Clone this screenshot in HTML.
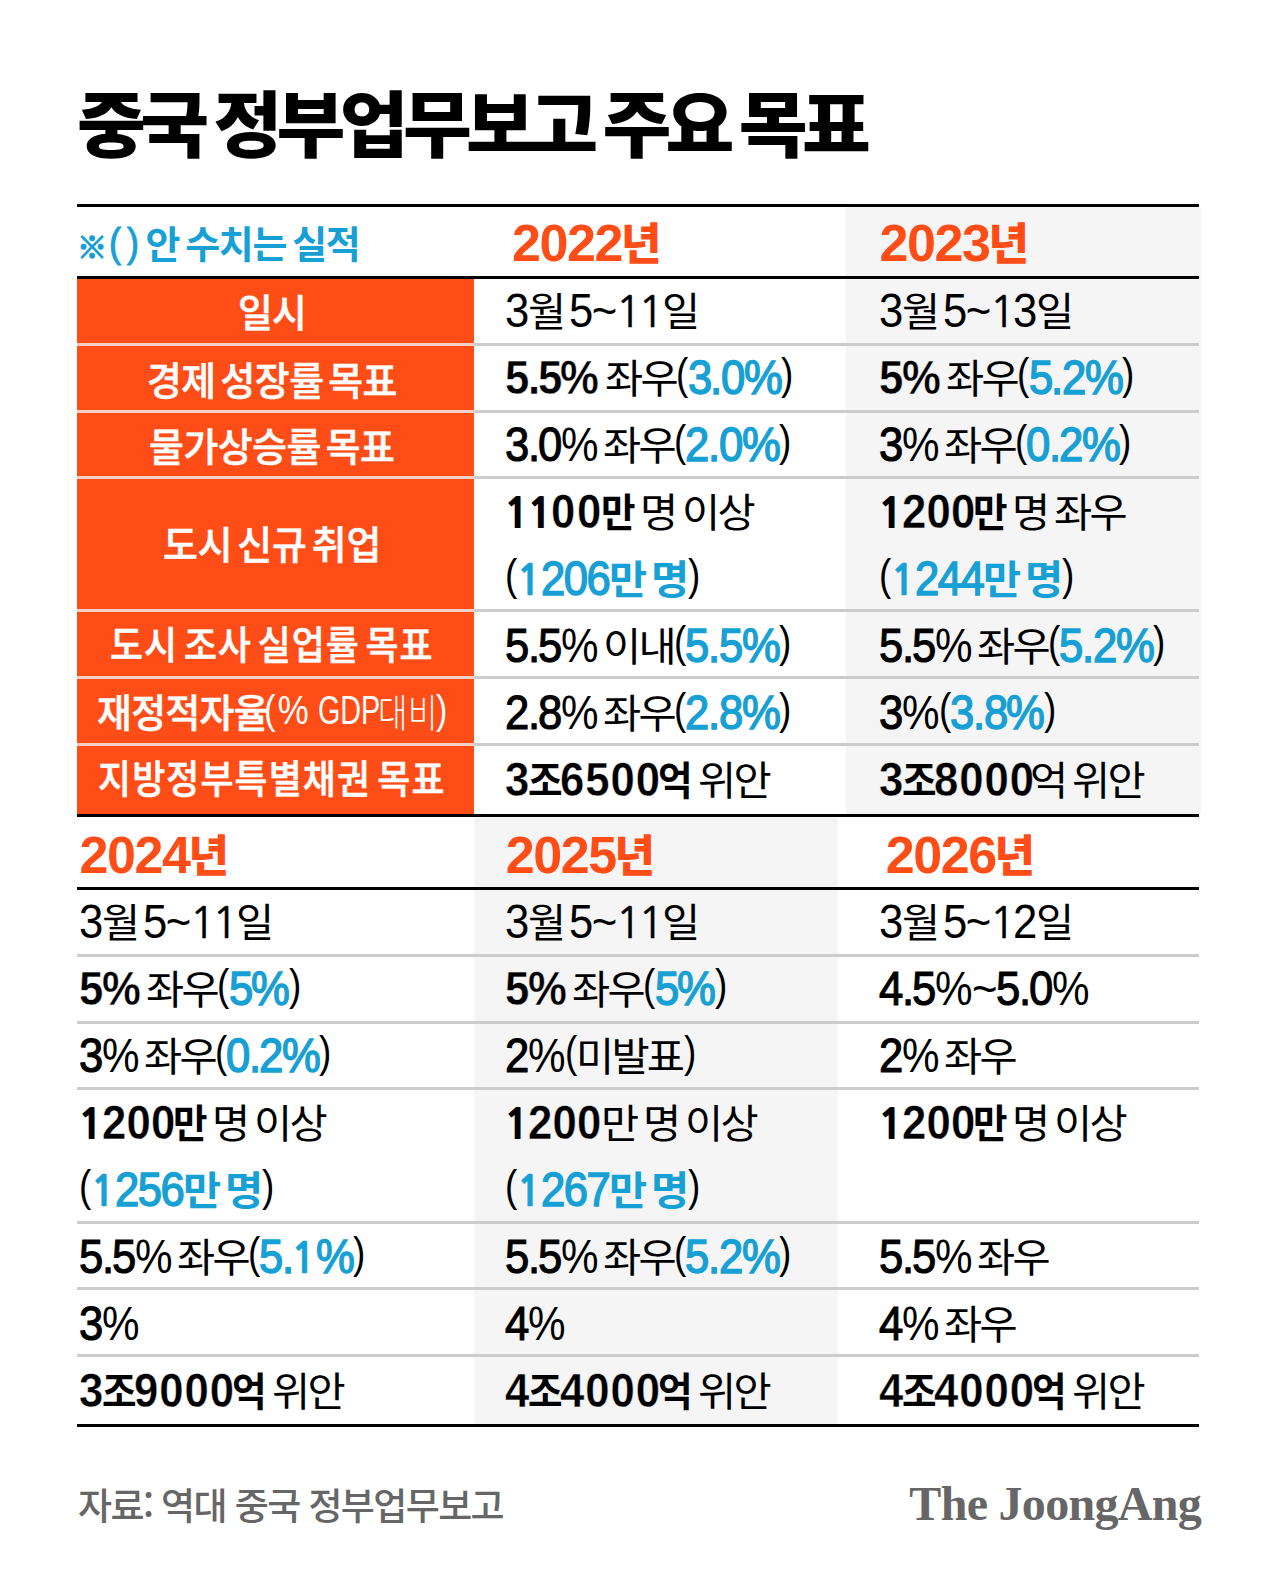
<!DOCTYPE html>
<html lang="ko"><head><meta charset="utf-8"><title>중국 정부업무보고 주요 목표</title>
<style>
html,body{margin:0;padding:0;background:#fff;}
#wrap{position:relative;width:1280px;height:1584px;overflow:hidden;background:#fff;
  font-family:"Liberation Sans","Noto Sans CJK KR",sans-serif;color:#000;}
.ln{position:absolute;white-space:pre;line-height:0;height:60px;font-size:0;}
.strut{display:inline-block;height:60px;width:0;vertical-align:baseline;}
.u{display:inline-block;white-space:pre;vertical-align:baseline;line-height:0;}
.i{display:inline-block;white-space:pre;transform-origin:0 50%;line-height:1;}
.sp{font-size:10px;}
.L{font-family:"Liberation Sans",sans-serif;font-size:48.5px;letter-spacing:-1.7px;}
.K{position:relative;top:-1px;font-family:"Noto Sans CJK KR",sans-serif;font-size:39.5px;letter-spacing:-2.6px;}
.P{font-family:"Liberation Sans",sans-serif;font-size:43.5px;letter-spacing:-1.0px;position:relative;top:-5.5px;font-weight:400;color:#000;}
.N{font-family:"NanumGothic",sans-serif;}
.Nb{font-size:42.0px;font-weight:800;}
.Nc{font-size:42.8px;font-weight:700;color:#17a0d4;-webkit-text-stroke:0.5px #17a0d4;}
.Nm{font-size:42.8px;font-weight:700;-webkit-text-stroke:0.3px #000;}
.Nr{font-size:43.5px;font-weight:400;-webkit-text-stroke:0.5px #000;}
.Lb,.Kb{font-weight:700;}
.Lb{letter-spacing:1.1px;-webkit-text-stroke:0.4px #fff;}
.gb .Lb{-webkit-text-stroke-color:#f5f5f5;}
.Lr,.Kr{font-weight:400;}
.Lm{font-weight:400;-webkit-text-stroke:1.1px #000;}
.Km{font-weight:500;}
.Lc{font-weight:400;color:#17a0d4;-webkit-text-stroke:1.5px #17a0d4;}
.Kc{font-weight:700;color:#17a0d4;}
.yr{position:absolute;white-space:nowrap;font-size:52px;font-weight:700;color:#ff4d17;line-height:0;letter-spacing:-1.4px;height:60px;font-family:"Liberation Sans",sans-serif;}
.yr .k{-webkit-text-stroke:0;position:relative;top:-1px;font-size:44px;font-weight:900;letter-spacing:0;margin-left:-1.2px;font-family:"Noto Sans CJK KR",sans-serif;}
#title{position:absolute;left:77px;top:66.5px;font-size:72px;font-weight:900;letter-spacing:-5.5px;word-spacing:-5px;transform:scaleX(1.04);transform-origin:0 0;white-space:nowrap;line-height:106px;font-family:"Noto Sans CJK KR",sans-serif;}
#note{position:absolute;left:0;top:207px;height:69px;width:474px;color:#17a0d4;white-space:pre;font-weight:700;}
#note span{position:absolute;white-space:pre;line-height:1;}
.nx{left:77px;top:22.5px;font-size:30px;font-family:"Noto Sans CJK KR",sans-serif;font-weight:900;-webkit-text-stroke:1.3px #17a0d4;}
.np{left:109px;top:15.5px;font-size:40px;font-family:"Liberation Sans",sans-serif;font-weight:400;-webkit-text-stroke:1px #17a0d4;letter-spacing:0;word-spacing:-4.4px;transform:scaleX(.9);transform-origin:0 0;}
.nk{left:145.5px;top:15.5px;font-size:38px;font-family:"Noto Sans CJK KR",sans-serif;font-weight:700;letter-spacing:-1.4px;word-spacing:-3px;}
.lab{position:absolute;left:77px;width:390px;height:60px;line-height:60px;text-align:center;color:#fff;white-space:pre;font-size:0;}
.lp{display:inline-block;white-space:pre;font-size:39px;line-height:60px;text-align:left;vertical-align:top;word-spacing:-5.5px;}
.lpi{display:inline-block;white-space:pre;transform-origin:0 50%;}
.lb{font-family:"Noto Sans CJK KR",sans-serif;font-weight:500;-webkit-text-stroke:0.6px #fff;}
.ll{font-family:"Liberation Sans",sans-serif;font-weight:400;font-size:40px;}
.lk{font-family:"Noto Sans CJK KR",sans-serif;font-weight:300;font-size:39px;position:relative;top:0px;}
#src{position:absolute;left:78px;top:1474px;font-size:37px;color:#666;white-space:nowrap;line-height:60px;letter-spacing:-1.6px;font-family:"Noto Sans CJK KR",sans-serif;font-weight:500;}
#logo{position:absolute;right:79px;top:1474px;font-size:48px;color:#666;white-space:nowrap;line-height:60px;font-family:"Liberation Serif",serif;font-weight:700;letter-spacing:-0.7px;}
</style></head>
<body>
<div id="wrap">
<div style="position:absolute;left:846px;top:207px;width:355px;height:606.5px;background:#f5f5f5;"></div>
<div style="position:absolute;left:474px;top:816.5px;width:364px;height:607.5px;background:#f5f5f5;"></div>
<div style="position:absolute;left:77px;top:279px;width:397px;height:534.5px;background:#ff4d17;"></div>
<div id="title">중국 정부업무보고 주요 목표</div>
<div id="note"><span class="nx">※</span><span class="np">( ) </span><span class="nk">안 수치는 실적</span></div>
<div class="ln" style="left:504.8px;top:267px"><span class="u L Lr" style="width:22.75px;"><span class="i" style="transform:scaleX(0.9);">3</span></span><span class="u K Kr" style="width:35.44px;"><span class="i" style="transform:scaleX(1.05);">월</span></span><span class="u sp" style="width:6.5px"> </span><span class="u L Lr" style="width:46.72px;"><span class="i" style="transform:scaleX(0.9);">5~</span></span><span class="u N Nr" style="width:26.38px;margin-left:-0.8px;margin-right:-2.9px;"><span class="i" style="transform:scaleX(1.0);">1</span></span><span class="u N Nr" style="width:26.38px;margin-left:-0.8px;margin-right:-2.9px;"><span class="i" style="transform:scaleX(1.0);">1</span></span><span class="u K Kr" style="width:35.44px;"><span class="i" style="transform:scaleX(1.05);">일</span></span><span class="strut"></span></div>
<div class="ln" style="left:504.8px;top:334px"><span class="u L Lb" style="width:25.27px;"><span class="i" style="transform:scaleX(0.9);">5</span></span><span class="u L Lb" style="width:13.12px;margin-left:-2.5px;margin-right:-3px;"><span class="i" style="transform:scaleX(0.9);">.</span></span><span class="u L Lb" style="width:25.27px;"><span class="i" style="transform:scaleX(0.9);">5</span></span><span class="u L Lb" style="width:39.81px;margin-left:-2.5px;"><span class="i" style="transform:scaleX(0.9);">%</span></span><span class="u sp" style="width:5.0px"> </span><span class="u K Kr" style="width:70.86px;"><span class="i" style="transform:scaleX(1.05);">좌우</span></span><span class="u P" style="width:11.47px;"><span class="i" style="transform:scaleX(0.85);">(</span></span><span class="u L Lc" style="width:22.75px;"><span class="i" style="transform:scaleX(0.9);">3</span></span><span class="u L Lc" style="width:10.60px;"><span class="i" style="transform:scaleX(0.9);">.</span></span><span class="u L Lc" style="width:22.75px;"><span class="i" style="transform:scaleX(0.9);">0</span></span><span class="u L Lc" style="width:37.29px;"><span class="i" style="transform:scaleX(0.9);">%</span></span><span class="u P" style="width:11.47px;"><span class="i" style="transform:scaleX(0.85);">)</span></span><span class="strut"></span></div>
<div class="ln" style="left:504.8px;top:401px"><span class="u L Lm" style="width:22.75px;"><span class="i" style="transform:scaleX(0.9);">3</span></span><span class="u L Lm" style="width:10.60px;"><span class="i" style="transform:scaleX(0.9);">.</span></span><span class="u L Lm" style="width:22.75px;"><span class="i" style="transform:scaleX(0.9);">0</span></span><span class="u L Lr" style="width:36.05px;margin-right:1.2px;"><span class="i" style="transform:scaleX(0.87);">%</span></span><span class="u sp" style="width:5.0px"> </span><span class="u K Kr" style="width:70.86px;"><span class="i" style="transform:scaleX(1.05);">좌우</span></span><span class="u P" style="width:11.47px;"><span class="i" style="transform:scaleX(0.85);">(</span></span><span class="u L Lc" style="width:22.75px;"><span class="i" style="transform:scaleX(0.9);">2</span></span><span class="u L Lc" style="width:10.60px;"><span class="i" style="transform:scaleX(0.9);">.</span></span><span class="u L Lc" style="width:22.75px;"><span class="i" style="transform:scaleX(0.9);">0</span></span><span class="u L Lc" style="width:37.29px;"><span class="i" style="transform:scaleX(0.9);">%</span></span><span class="u P" style="width:11.47px;"><span class="i" style="transform:scaleX(0.85);">)</span></span><span class="strut"></span></div>
<div class="ln" style="left:504.8px;top:468px"><span class="u N Nb" style="width:25.45px;margin-left:-0.7px;margin-right:-1.5px;"><span class="i" style="transform:scaleX(1.0);">1</span></span><span class="u N Nb" style="width:25.45px;margin-left:-0.7px;margin-right:-1.5px;"><span class="i" style="transform:scaleX(1.0);">1</span></span><span class="u L Lb" style="width:51.97px;"><span class="i" style="transform:scaleX(0.9);letter-spacing:1.9px;">00</span></span><span class="u K Kb" style="width:32.06px;margin-left:-2.5px;"><span class="i" style="transform:scaleX(0.95);">만</span></span><span class="u sp" style="width:7.5px"> </span><span class="u K Kr" style="width:35.44px;"><span class="i" style="transform:scaleX(1.05);">명</span></span><span class="u sp" style="width:6.5px"> </span><span class="u K Kr" style="width:70.86px;"><span class="i" style="transform:scaleX(1.05);">이상</span></span><span class="strut"></span></div>
<div class="ln" style="left:504.8px;top:535px"><span class="u P" style="width:11.47px;"><span class="i" style="transform:scaleX(0.85);">(</span></span><span class="u N Nc" style="width:25.94px;margin-left:-0.20000000000000018px;margin-right:-1.0px;"><span class="i" style="transform:scaleX(1.0);">1</span></span><span class="u L Lc" style="width:68.25px;"><span class="i" style="transform:scaleX(0.9);">206</span></span><span class="u K Kc" style="width:35.44px;"><span class="i" style="transform:scaleX(1.05);">만</span></span><span class="u sp" style="width:6px"> </span><span class="u K Kc" style="width:35.44px;"><span class="i" style="transform:scaleX(1.05);">명</span></span><span class="u P" style="width:11.47px;margin-left:1.5px;"><span class="i" style="transform:scaleX(0.85);">)</span></span><span class="strut"></span></div>
<div class="ln" style="left:504.8px;top:602px"><span class="u L Lm" style="width:22.75px;"><span class="i" style="transform:scaleX(0.9);">5</span></span><span class="u L Lm" style="width:10.60px;"><span class="i" style="transform:scaleX(0.9);">.</span></span><span class="u L Lm" style="width:22.75px;"><span class="i" style="transform:scaleX(0.9);">5</span></span><span class="u L Lr" style="width:36.05px;margin-right:1.2px;"><span class="i" style="transform:scaleX(0.87);">%</span></span><span class="u sp" style="width:5.0px"> </span><span class="u K Kr" style="width:70.86px;"><span class="i" style="transform:scaleX(1.05);">이내</span></span><span class="u P" style="width:11.47px;"><span class="i" style="transform:scaleX(0.85);">(</span></span><span class="u L Lc" style="width:22.75px;"><span class="i" style="transform:scaleX(0.9);">5</span></span><span class="u L Lc" style="width:10.60px;"><span class="i" style="transform:scaleX(0.9);">.</span></span><span class="u L Lc" style="width:22.75px;"><span class="i" style="transform:scaleX(0.9);">5</span></span><span class="u L Lc" style="width:37.29px;"><span class="i" style="transform:scaleX(0.9);">%</span></span><span class="u P" style="width:11.47px;"><span class="i" style="transform:scaleX(0.85);">)</span></span><span class="strut"></span></div>
<div class="ln" style="left:504.8px;top:669px"><span class="u L Lm" style="width:22.75px;"><span class="i" style="transform:scaleX(0.9);">2</span></span><span class="u L Lm" style="width:10.60px;"><span class="i" style="transform:scaleX(0.9);">.</span></span><span class="u L Lm" style="width:22.75px;"><span class="i" style="transform:scaleX(0.9);">8</span></span><span class="u L Lr" style="width:36.05px;margin-right:1.2px;"><span class="i" style="transform:scaleX(0.87);">%</span></span><span class="u sp" style="width:5.0px"> </span><span class="u K Kr" style="width:70.86px;"><span class="i" style="transform:scaleX(1.05);">좌우</span></span><span class="u P" style="width:11.47px;"><span class="i" style="transform:scaleX(0.85);">(</span></span><span class="u L Lc" style="width:22.75px;"><span class="i" style="transform:scaleX(0.9);">2</span></span><span class="u L Lc" style="width:10.60px;"><span class="i" style="transform:scaleX(0.9);">.</span></span><span class="u L Lc" style="width:22.75px;"><span class="i" style="transform:scaleX(0.9);">8</span></span><span class="u L Lc" style="width:37.29px;"><span class="i" style="transform:scaleX(0.9);">%</span></span><span class="u P" style="width:11.47px;"><span class="i" style="transform:scaleX(0.85);">)</span></span><span class="strut"></span></div>
<div class="ln" style="left:504.8px;top:736px"><span class="u L Lb" style="width:25.27px;"><span class="i" style="transform:scaleX(0.9);">3</span></span><span class="u K Kb" style="width:32.06px;margin-left:-2.5px;"><span class="i" style="transform:scaleX(0.95);">조</span></span><span class="u L Lb" style="width:101.07px;"><span class="i" style="transform:scaleX(0.9);">6500</span></span><span class="u K Kb" style="width:32.06px;margin-left:-2.5px;"><span class="i" style="transform:scaleX(0.95);">억</span></span><span class="u sp" style="width:7.5px"> </span><span class="u K Kr" style="width:70.86px;"><span class="i" style="transform:scaleX(1.05);">위안</span></span><span class="strut"></span></div>
<div class="ln gb" style="left:878.8px;top:267px"><span class="u L Lr" style="width:22.75px;"><span class="i" style="transform:scaleX(0.9);">3</span></span><span class="u K Kr" style="width:35.44px;"><span class="i" style="transform:scaleX(1.05);">월</span></span><span class="u sp" style="width:6.5px"> </span><span class="u L Lr" style="width:46.72px;"><span class="i" style="transform:scaleX(0.9);">5~</span></span><span class="u N Nr" style="width:26.38px;margin-left:-0.8px;margin-right:-2.9px;"><span class="i" style="transform:scaleX(1.0);">1</span></span><span class="u L Lr" style="width:22.75px;"><span class="i" style="transform:scaleX(0.9);">3</span></span><span class="u K Kr" style="width:35.44px;"><span class="i" style="transform:scaleX(1.05);">일</span></span><span class="strut"></span></div>
<div class="ln gb" style="left:878.8px;top:334px"><span class="u L Lb" style="width:25.27px;"><span class="i" style="transform:scaleX(0.9);">5</span></span><span class="u L Lb" style="width:39.81px;margin-left:-2.5px;"><span class="i" style="transform:scaleX(0.9);">%</span></span><span class="u sp" style="width:5.0px"> </span><span class="u K Kr" style="width:70.86px;"><span class="i" style="transform:scaleX(1.05);">좌우</span></span><span class="u P" style="width:11.47px;"><span class="i" style="transform:scaleX(0.85);">(</span></span><span class="u L Lc" style="width:22.75px;"><span class="i" style="transform:scaleX(0.9);">5</span></span><span class="u L Lc" style="width:10.60px;"><span class="i" style="transform:scaleX(0.9);">.</span></span><span class="u L Lc" style="width:22.75px;"><span class="i" style="transform:scaleX(0.9);">2</span></span><span class="u L Lc" style="width:37.29px;"><span class="i" style="transform:scaleX(0.9);">%</span></span><span class="u P" style="width:11.47px;"><span class="i" style="transform:scaleX(0.85);">)</span></span><span class="strut"></span></div>
<div class="ln gb" style="left:878.8px;top:401px"><span class="u L Lm" style="width:22.75px;"><span class="i" style="transform:scaleX(0.9);">3</span></span><span class="u L Lr" style="width:36.05px;margin-right:1.2px;"><span class="i" style="transform:scaleX(0.87);">%</span></span><span class="u sp" style="width:5.0px"> </span><span class="u K Kr" style="width:70.86px;"><span class="i" style="transform:scaleX(1.05);">좌우</span></span><span class="u P" style="width:11.47px;"><span class="i" style="transform:scaleX(0.85);">(</span></span><span class="u L Lc" style="width:22.75px;"><span class="i" style="transform:scaleX(0.9);">0</span></span><span class="u L Lc" style="width:10.60px;"><span class="i" style="transform:scaleX(0.9);">.</span></span><span class="u L Lc" style="width:22.75px;"><span class="i" style="transform:scaleX(0.9);">2</span></span><span class="u L Lc" style="width:37.29px;"><span class="i" style="transform:scaleX(0.9);">%</span></span><span class="u P" style="width:11.47px;"><span class="i" style="transform:scaleX(0.85);">)</span></span><span class="strut"></span></div>
<div class="ln gb" style="left:878.8px;top:468px"><span class="u N Nb" style="width:25.45px;margin-left:-0.7px;margin-right:-1.5px;"><span class="i" style="transform:scaleX(1.0);">1</span></span><span class="u L Lb" style="width:73.38px;"><span class="i" style="transform:scaleX(0.9);letter-spacing:0.2px;">200</span></span><span class="u K Kb" style="width:32.06px;margin-left:-2.5px;"><span class="i" style="transform:scaleX(0.95);">만</span></span><span class="u sp" style="width:7.5px"> </span><span class="u K Kr" style="width:35.44px;"><span class="i" style="transform:scaleX(1.05);">명</span></span><span class="u sp" style="width:6.5px"> </span><span class="u K Kr" style="width:70.86px;"><span class="i" style="transform:scaleX(1.05);">좌우</span></span><span class="strut"></span></div>
<div class="ln gb" style="left:878.8px;top:535px"><span class="u P" style="width:11.47px;"><span class="i" style="transform:scaleX(0.85);">(</span></span><span class="u N Nc" style="width:25.94px;margin-left:-0.20000000000000018px;margin-right:-1.0px;"><span class="i" style="transform:scaleX(1.0);">1</span></span><span class="u L Lc" style="width:68.25px;"><span class="i" style="transform:scaleX(0.9);">244</span></span><span class="u K Kc" style="width:35.44px;"><span class="i" style="transform:scaleX(1.05);">만</span></span><span class="u sp" style="width:6px"> </span><span class="u K Kc" style="width:35.44px;"><span class="i" style="transform:scaleX(1.05);">명</span></span><span class="u P" style="width:11.47px;margin-left:1.5px;"><span class="i" style="transform:scaleX(0.85);">)</span></span><span class="strut"></span></div>
<div class="ln gb" style="left:878.8px;top:602px"><span class="u L Lm" style="width:22.75px;"><span class="i" style="transform:scaleX(0.9);">5</span></span><span class="u L Lm" style="width:10.60px;"><span class="i" style="transform:scaleX(0.9);">.</span></span><span class="u L Lm" style="width:22.75px;"><span class="i" style="transform:scaleX(0.9);">5</span></span><span class="u L Lr" style="width:36.05px;margin-right:1.2px;"><span class="i" style="transform:scaleX(0.87);">%</span></span><span class="u sp" style="width:5.0px"> </span><span class="u K Kr" style="width:70.86px;"><span class="i" style="transform:scaleX(1.05);">좌우</span></span><span class="u P" style="width:11.47px;"><span class="i" style="transform:scaleX(0.85);">(</span></span><span class="u L Lc" style="width:22.75px;"><span class="i" style="transform:scaleX(0.9);">5</span></span><span class="u L Lc" style="width:10.60px;"><span class="i" style="transform:scaleX(0.9);">.</span></span><span class="u L Lc" style="width:22.75px;"><span class="i" style="transform:scaleX(0.9);">2</span></span><span class="u L Lc" style="width:37.29px;"><span class="i" style="transform:scaleX(0.9);">%</span></span><span class="u P" style="width:11.47px;"><span class="i" style="transform:scaleX(0.85);">)</span></span><span class="strut"></span></div>
<div class="ln gb" style="left:878.8px;top:669px"><span class="u L Lm" style="width:22.75px;"><span class="i" style="transform:scaleX(0.9);">3</span></span><span class="u L Lr" style="width:36.05px;margin-right:1.2px;"><span class="i" style="transform:scaleX(0.87);">%</span></span><span class="u P" style="width:11.47px;"><span class="i" style="transform:scaleX(0.85);">(</span></span><span class="u L Lc" style="width:22.75px;"><span class="i" style="transform:scaleX(0.9);">3</span></span><span class="u L Lc" style="width:10.60px;"><span class="i" style="transform:scaleX(0.9);">.</span></span><span class="u L Lc" style="width:22.75px;"><span class="i" style="transform:scaleX(0.9);">8</span></span><span class="u L Lc" style="width:37.29px;"><span class="i" style="transform:scaleX(0.9);">%</span></span><span class="u P" style="width:11.47px;"><span class="i" style="transform:scaleX(0.85);">)</span></span><span class="strut"></span></div>
<div class="ln gb" style="left:878.8px;top:736px"><span class="u L Lb" style="width:25.27px;"><span class="i" style="transform:scaleX(0.9);">3</span></span><span class="u K Kb" style="width:32.06px;margin-left:-2.5px;"><span class="i" style="transform:scaleX(0.95);">조</span></span><span class="u L Lb" style="width:101.07px;"><span class="i" style="transform:scaleX(0.9);">8000</span></span><span class="u K Kr" style="width:35.44px;margin-left:-4.5px;"><span class="i" style="transform:scaleX(1.05);">억</span></span><span class="u sp" style="width:6.5px"> </span><span class="u K Kr" style="width:70.86px;"><span class="i" style="transform:scaleX(1.05);">위안</span></span><span class="strut"></span></div>
<div class="ln" style="left:78.8px;top:878px"><span class="u L Lr" style="width:22.75px;"><span class="i" style="transform:scaleX(0.9);">3</span></span><span class="u K Kr" style="width:35.44px;"><span class="i" style="transform:scaleX(1.05);">월</span></span><span class="u sp" style="width:6.5px"> </span><span class="u L Lr" style="width:46.72px;"><span class="i" style="transform:scaleX(0.9);">5~</span></span><span class="u N Nr" style="width:26.38px;margin-left:-0.8px;margin-right:-2.9px;"><span class="i" style="transform:scaleX(1.0);">1</span></span><span class="u N Nr" style="width:26.38px;margin-left:-0.8px;margin-right:-2.9px;"><span class="i" style="transform:scaleX(1.0);">1</span></span><span class="u K Kr" style="width:35.44px;"><span class="i" style="transform:scaleX(1.05);">일</span></span><span class="strut"></span></div>
<div class="ln" style="left:78.8px;top:945px"><span class="u L Lb" style="width:25.27px;"><span class="i" style="transform:scaleX(0.9);">5</span></span><span class="u L Lb" style="width:39.81px;margin-left:-2.5px;"><span class="i" style="transform:scaleX(0.9);">%</span></span><span class="u sp" style="width:5.0px"> </span><span class="u K Kr" style="width:70.86px;"><span class="i" style="transform:scaleX(1.05);">좌우</span></span><span class="u P" style="width:11.48px;"><span class="i" style="transform:scaleX(0.85);">(</span></span><span class="u L Lc" style="width:22.75px;"><span class="i" style="transform:scaleX(0.9);">5</span></span><span class="u L Lc" style="width:37.29px;"><span class="i" style="transform:scaleX(0.9);">%</span></span><span class="u P" style="width:11.48px;"><span class="i" style="transform:scaleX(0.85);">)</span></span><span class="strut"></span></div>
<div class="ln" style="left:78.8px;top:1012px"><span class="u L Lm" style="width:22.75px;"><span class="i" style="transform:scaleX(0.9);">3</span></span><span class="u L Lr" style="width:36.05px;margin-right:1.2px;"><span class="i" style="transform:scaleX(0.87);">%</span></span><span class="u sp" style="width:5.0px"> </span><span class="u K Kr" style="width:70.86px;"><span class="i" style="transform:scaleX(1.05);">좌우</span></span><span class="u P" style="width:11.48px;"><span class="i" style="transform:scaleX(0.85);">(</span></span><span class="u L Lc" style="width:22.75px;"><span class="i" style="transform:scaleX(0.9);">0</span></span><span class="u L Lc" style="width:10.60px;"><span class="i" style="transform:scaleX(0.9);">.</span></span><span class="u L Lc" style="width:22.75px;"><span class="i" style="transform:scaleX(0.9);">2</span></span><span class="u L Lc" style="width:37.29px;"><span class="i" style="transform:scaleX(0.9);">%</span></span><span class="u P" style="width:11.48px;"><span class="i" style="transform:scaleX(0.85);">)</span></span><span class="strut"></span></div>
<div class="ln" style="left:78.8px;top:1079px"><span class="u N Nb" style="width:25.45px;margin-left:-0.7px;margin-right:-1.5px;"><span class="i" style="transform:scaleX(1.0);">1</span></span><span class="u L Lb" style="width:73.38px;"><span class="i" style="transform:scaleX(0.9);letter-spacing:0.2px;">200</span></span><span class="u K Kb" style="width:32.06px;margin-left:-2.5px;"><span class="i" style="transform:scaleX(0.95);">만</span></span><span class="u sp" style="width:7.5px"> </span><span class="u K Kr" style="width:35.44px;"><span class="i" style="transform:scaleX(1.05);">명</span></span><span class="u sp" style="width:6.5px"> </span><span class="u K Kr" style="width:70.86px;"><span class="i" style="transform:scaleX(1.05);">이상</span></span><span class="strut"></span></div>
<div class="ln" style="left:78.8px;top:1146px"><span class="u P" style="width:11.47px;"><span class="i" style="transform:scaleX(0.85);">(</span></span><span class="u N Nc" style="width:25.94px;margin-left:-0.20000000000000018px;margin-right:-1.0px;"><span class="i" style="transform:scaleX(1.0);">1</span></span><span class="u L Lc" style="width:68.25px;"><span class="i" style="transform:scaleX(0.9);">256</span></span><span class="u K Kc" style="width:35.44px;"><span class="i" style="transform:scaleX(1.05);">만</span></span><span class="u sp" style="width:6px"> </span><span class="u K Kc" style="width:35.44px;"><span class="i" style="transform:scaleX(1.05);">명</span></span><span class="u P" style="width:11.48px;margin-left:1.5px;"><span class="i" style="transform:scaleX(0.85);">)</span></span><span class="strut"></span></div>
<div class="ln" style="left:78.8px;top:1213px"><span class="u L Lm" style="width:22.75px;"><span class="i" style="transform:scaleX(0.9);">5</span></span><span class="u L Lm" style="width:10.60px;"><span class="i" style="transform:scaleX(0.9);">.</span></span><span class="u L Lm" style="width:22.75px;"><span class="i" style="transform:scaleX(0.9);">5</span></span><span class="u L Lr" style="width:36.05px;margin-right:1.2px;"><span class="i" style="transform:scaleX(0.87);">%</span></span><span class="u sp" style="width:5.0px"> </span><span class="u K Kr" style="width:70.86px;"><span class="i" style="transform:scaleX(1.05);">좌우</span></span><span class="u P" style="width:11.48px;"><span class="i" style="transform:scaleX(0.85);">(</span></span><span class="u L Lc" style="width:22.75px;"><span class="i" style="transform:scaleX(0.9);">5</span></span><span class="u L Lc" style="width:10.60px;"><span class="i" style="transform:scaleX(0.9);">.</span></span><span class="u N Nc" style="width:25.94px;margin-left:-2.2px;margin-right:-1.0px;"><span class="i" style="transform:scaleX(1.0);">1</span></span><span class="u L Lc" style="width:37.29px;"><span class="i" style="transform:scaleX(0.9);">%</span></span><span class="u P" style="width:11.48px;"><span class="i" style="transform:scaleX(0.85);">)</span></span><span class="strut"></span></div>
<div class="ln" style="left:78.8px;top:1280px"><span class="u L Lm" style="width:22.75px;"><span class="i" style="transform:scaleX(0.9);">3</span></span><span class="u L Lr" style="width:36.05px;margin-right:1.2px;"><span class="i" style="transform:scaleX(0.87);">%</span></span><span class="strut"></span></div>
<div class="ln" style="left:78.8px;top:1347px"><span class="u L Lb" style="width:25.27px;"><span class="i" style="transform:scaleX(0.9);">3</span></span><span class="u K Kb" style="width:32.06px;margin-left:-2.5px;"><span class="i" style="transform:scaleX(0.95);">조</span></span><span class="u L Lb" style="width:101.07px;"><span class="i" style="transform:scaleX(0.9);">9000</span></span><span class="u K Kb" style="width:32.06px;margin-left:-2.5px;"><span class="i" style="transform:scaleX(0.95);">억</span></span><span class="u sp" style="width:7.5px"> </span><span class="u K Kr" style="width:70.86px;"><span class="i" style="transform:scaleX(1.05);">위안</span></span><span class="strut"></span></div>
<div class="ln gb" style="left:504.8px;top:878px"><span class="u L Lr" style="width:22.75px;"><span class="i" style="transform:scaleX(0.9);">3</span></span><span class="u K Kr" style="width:35.44px;"><span class="i" style="transform:scaleX(1.05);">월</span></span><span class="u sp" style="width:6.5px"> </span><span class="u L Lr" style="width:46.72px;"><span class="i" style="transform:scaleX(0.9);">5~</span></span><span class="u N Nr" style="width:26.38px;margin-left:-0.8px;margin-right:-2.9px;"><span class="i" style="transform:scaleX(1.0);">1</span></span><span class="u N Nr" style="width:26.38px;margin-left:-0.8px;margin-right:-2.9px;"><span class="i" style="transform:scaleX(1.0);">1</span></span><span class="u K Kr" style="width:35.44px;"><span class="i" style="transform:scaleX(1.05);">일</span></span><span class="strut"></span></div>
<div class="ln gb" style="left:504.8px;top:945px"><span class="u L Lb" style="width:25.27px;"><span class="i" style="transform:scaleX(0.9);">5</span></span><span class="u L Lb" style="width:39.81px;margin-left:-2.5px;"><span class="i" style="transform:scaleX(0.9);">%</span></span><span class="u sp" style="width:5.0px"> </span><span class="u K Kr" style="width:70.86px;"><span class="i" style="transform:scaleX(1.05);">좌우</span></span><span class="u P" style="width:11.47px;"><span class="i" style="transform:scaleX(0.85);">(</span></span><span class="u L Lc" style="width:22.75px;"><span class="i" style="transform:scaleX(0.9);">5</span></span><span class="u L Lc" style="width:37.29px;"><span class="i" style="transform:scaleX(0.9);">%</span></span><span class="u P" style="width:11.47px;"><span class="i" style="transform:scaleX(0.85);">)</span></span><span class="strut"></span></div>
<div class="ln gb" style="left:504.8px;top:1012px"><span class="u L Lm" style="width:22.75px;"><span class="i" style="transform:scaleX(0.9);">2</span></span><span class="u L Lr" style="width:36.05px;margin-right:1.2px;"><span class="i" style="transform:scaleX(0.87);">%</span></span><span class="u P" style="width:11.47px;"><span class="i" style="transform:scaleX(0.85);">(</span></span><span class="u K Kr" style="width:106.30px;"><span class="i" style="transform:scaleX(1.05);">미발표</span></span><span class="u P" style="width:11.47px;margin-left:1.5px;"><span class="i" style="transform:scaleX(0.85);">)</span></span><span class="strut"></span></div>
<div class="ln gb" style="left:504.8px;top:1079px"><span class="u N Nb" style="width:25.45px;margin-left:-0.7px;margin-right:-1.5px;"><span class="i" style="transform:scaleX(1.0);">1</span></span><span class="u L Lb" style="width:73.38px;"><span class="i" style="transform:scaleX(0.9);letter-spacing:0.2px;">200</span></span><span class="u K Kr" style="width:35.44px;"><span class="i" style="transform:scaleX(1.05);">만</span></span><span class="u sp" style="width:6.5px"> </span><span class="u K Kr" style="width:35.44px;"><span class="i" style="transform:scaleX(1.05);">명</span></span><span class="u sp" style="width:6.5px"> </span><span class="u K Kr" style="width:70.86px;"><span class="i" style="transform:scaleX(1.05);">이상</span></span><span class="strut"></span></div>
<div class="ln gb" style="left:504.8px;top:1146px"><span class="u P" style="width:11.47px;"><span class="i" style="transform:scaleX(0.85);">(</span></span><span class="u N Nc" style="width:25.94px;margin-left:-0.20000000000000018px;margin-right:-1.0px;"><span class="i" style="transform:scaleX(1.0);">1</span></span><span class="u L Lc" style="width:68.25px;"><span class="i" style="transform:scaleX(0.9);">267</span></span><span class="u K Kc" style="width:35.44px;"><span class="i" style="transform:scaleX(1.05);">만</span></span><span class="u sp" style="width:6px"> </span><span class="u K Kc" style="width:35.44px;"><span class="i" style="transform:scaleX(1.05);">명</span></span><span class="u P" style="width:11.47px;margin-left:1.5px;"><span class="i" style="transform:scaleX(0.85);">)</span></span><span class="strut"></span></div>
<div class="ln gb" style="left:504.8px;top:1213px"><span class="u L Lm" style="width:22.75px;"><span class="i" style="transform:scaleX(0.9);">5</span></span><span class="u L Lm" style="width:10.60px;"><span class="i" style="transform:scaleX(0.9);">.</span></span><span class="u L Lm" style="width:22.75px;"><span class="i" style="transform:scaleX(0.9);">5</span></span><span class="u L Lr" style="width:36.05px;margin-right:1.2px;"><span class="i" style="transform:scaleX(0.87);">%</span></span><span class="u sp" style="width:5.0px"> </span><span class="u K Kr" style="width:70.86px;"><span class="i" style="transform:scaleX(1.05);">좌우</span></span><span class="u P" style="width:11.47px;"><span class="i" style="transform:scaleX(0.85);">(</span></span><span class="u L Lc" style="width:22.75px;"><span class="i" style="transform:scaleX(0.9);">5</span></span><span class="u L Lc" style="width:10.60px;"><span class="i" style="transform:scaleX(0.9);">.</span></span><span class="u L Lc" style="width:22.75px;"><span class="i" style="transform:scaleX(0.9);">2</span></span><span class="u L Lc" style="width:37.29px;"><span class="i" style="transform:scaleX(0.9);">%</span></span><span class="u P" style="width:11.47px;"><span class="i" style="transform:scaleX(0.85);">)</span></span><span class="strut"></span></div>
<div class="ln gb" style="left:504.8px;top:1280px"><span class="u L Lm" style="width:22.75px;"><span class="i" style="transform:scaleX(0.9);">4</span></span><span class="u L Lr" style="width:36.05px;margin-right:1.2px;"><span class="i" style="transform:scaleX(0.87);">%</span></span><span class="strut"></span></div>
<div class="ln gb" style="left:504.8px;top:1347px"><span class="u L Lb" style="width:25.27px;"><span class="i" style="transform:scaleX(0.9);">4</span></span><span class="u K Kb" style="width:32.06px;margin-left:-2.5px;"><span class="i" style="transform:scaleX(0.95);">조</span></span><span class="u L Lb" style="width:101.07px;"><span class="i" style="transform:scaleX(0.9);">4000</span></span><span class="u K Kb" style="width:32.06px;margin-left:-2.5px;"><span class="i" style="transform:scaleX(0.95);">억</span></span><span class="u sp" style="width:7.5px"> </span><span class="u K Kr" style="width:70.86px;"><span class="i" style="transform:scaleX(1.05);">위안</span></span><span class="strut"></span></div>
<div class="ln" style="left:878.8px;top:878px"><span class="u L Lr" style="width:22.75px;"><span class="i" style="transform:scaleX(0.9);">3</span></span><span class="u K Kr" style="width:35.44px;"><span class="i" style="transform:scaleX(1.05);">월</span></span><span class="u sp" style="width:6.5px"> </span><span class="u L Lr" style="width:46.72px;"><span class="i" style="transform:scaleX(0.9);">5~</span></span><span class="u N Nr" style="width:26.38px;margin-left:-0.8px;margin-right:-2.9px;"><span class="i" style="transform:scaleX(1.0);">1</span></span><span class="u L Lr" style="width:22.75px;"><span class="i" style="transform:scaleX(0.9);">2</span></span><span class="u K Kr" style="width:35.44px;"><span class="i" style="transform:scaleX(1.05);">일</span></span><span class="strut"></span></div>
<div class="ln" style="left:878.8px;top:945px"><span class="u L Lm" style="width:22.75px;"><span class="i" style="transform:scaleX(0.9);">4</span></span><span class="u L Lm" style="width:10.60px;"><span class="i" style="transform:scaleX(0.9);">.</span></span><span class="u L Lm" style="width:22.75px;"><span class="i" style="transform:scaleX(0.9);">5</span></span><span class="u L Lr" style="width:36.05px;margin-right:1.2px;"><span class="i" style="transform:scaleX(0.87);">%</span></span><span class="u L Lr" style="width:23.96px;"><span class="i" style="transform:scaleX(0.9);">~</span></span><span class="u L Lm" style="width:22.75px;"><span class="i" style="transform:scaleX(0.9);">5</span></span><span class="u L Lm" style="width:10.60px;"><span class="i" style="transform:scaleX(0.9);">.</span></span><span class="u L Lm" style="width:22.75px;"><span class="i" style="transform:scaleX(0.9);">0</span></span><span class="u L Lr" style="width:36.05px;margin-right:1.2px;"><span class="i" style="transform:scaleX(0.87);">%</span></span><span class="strut"></span></div>
<div class="ln" style="left:878.8px;top:1012px"><span class="u L Lm" style="width:22.75px;"><span class="i" style="transform:scaleX(0.9);">2</span></span><span class="u L Lr" style="width:36.05px;margin-right:1.2px;"><span class="i" style="transform:scaleX(0.87);">%</span></span><span class="u sp" style="width:5.0px"> </span><span class="u K Kr" style="width:70.86px;"><span class="i" style="transform:scaleX(1.05);">좌우</span></span><span class="strut"></span></div>
<div class="ln" style="left:878.8px;top:1079px"><span class="u N Nb" style="width:25.45px;margin-left:-0.7px;margin-right:-1.5px;"><span class="i" style="transform:scaleX(1.0);">1</span></span><span class="u L Lb" style="width:73.38px;"><span class="i" style="transform:scaleX(0.9);letter-spacing:0.2px;">200</span></span><span class="u K Kb" style="width:32.06px;margin-left:-2.5px;"><span class="i" style="transform:scaleX(0.95);">만</span></span><span class="u sp" style="width:7.5px"> </span><span class="u K Kr" style="width:35.44px;"><span class="i" style="transform:scaleX(1.05);">명</span></span><span class="u sp" style="width:6.5px"> </span><span class="u K Kr" style="width:70.86px;"><span class="i" style="transform:scaleX(1.05);">이상</span></span><span class="strut"></span></div>
<div class="ln" style="left:878.8px;top:1213px"><span class="u L Lm" style="width:22.75px;"><span class="i" style="transform:scaleX(0.9);">5</span></span><span class="u L Lm" style="width:10.60px;"><span class="i" style="transform:scaleX(0.9);">.</span></span><span class="u L Lm" style="width:22.75px;"><span class="i" style="transform:scaleX(0.9);">5</span></span><span class="u L Lr" style="width:36.05px;margin-right:1.2px;"><span class="i" style="transform:scaleX(0.87);">%</span></span><span class="u sp" style="width:5.0px"> </span><span class="u K Kr" style="width:70.86px;"><span class="i" style="transform:scaleX(1.05);">좌우</span></span><span class="strut"></span></div>
<div class="ln" style="left:878.8px;top:1280px"><span class="u L Lm" style="width:22.75px;"><span class="i" style="transform:scaleX(0.9);">4</span></span><span class="u L Lr" style="width:36.05px;margin-right:1.2px;"><span class="i" style="transform:scaleX(0.87);">%</span></span><span class="u sp" style="width:5.0px"> </span><span class="u K Kr" style="width:70.86px;"><span class="i" style="transform:scaleX(1.05);">좌우</span></span><span class="strut"></span></div>
<div class="ln" style="left:878.8px;top:1347px"><span class="u L Lb" style="width:25.27px;"><span class="i" style="transform:scaleX(0.9);">4</span></span><span class="u K Kb" style="width:32.06px;margin-left:-2.5px;"><span class="i" style="transform:scaleX(0.95);">조</span></span><span class="u L Lb" style="width:101.07px;"><span class="i" style="transform:scaleX(0.9);">4000</span></span><span class="u K Kb" style="width:32.06px;margin-left:-2.5px;"><span class="i" style="transform:scaleX(0.95);">억</span></span><span class="u sp" style="width:7.5px"> </span><span class="u K Kr" style="width:70.86px;"><span class="i" style="transform:scaleX(1.05);">위안</span></span><span class="strut"></span></div>
<div class="yr" style="left:512px;top:201px">2022<span class="k">년</span><span class="strut"></span></div>
<div class="yr yg" style="left:879.5px;top:201px">2023<span class="k">년</span><span class="strut"></span></div>
<div class="yr" style="left:79.5px;top:812.5px">2024<span class="k">년</span><span class="strut"></span></div>
<div class="yr yg" style="left:505.7px;top:812.5px">2025<span class="k">년</span><span class="strut"></span></div>
<div class="yr" style="left:885.7px;top:812.5px">2026<span class="k">년</span><span class="strut"></span></div>
<div class="lab" style="top:280.0px"><span class="lp lb" style="letter-spacing:-0.83px;width:68.0px;"><span class="lpi" style="transform:scaleX(0.97)">일시</span></span></div>
<div class="lab" style="top:347.5px"><span class="lp lb" style="letter-spacing:-0.48px;width:250.0px;"><span class="lpi" style="transform:scaleX(0.97)">경제 성장률 목표</span></span></div>
<div class="lab" style="top:414.0px"><span class="lp lb" style="letter-spacing:-0.44px;width:245.5px;"><span class="lpi" style="transform:scaleX(0.97)">물가상승률 목표</span></span></div>
<div class="lab" style="top:512.0px"><span class="lp lb" style="letter-spacing:-0.17px;width:218.0px;"><span class="lpi" style="transform:scaleX(0.97)">도시 신규 취업</span></span></div>
<div class="lab" style="top:612.0px"><span class="lp lb" style="letter-spacing:1.04px;width:323.5px;"><span class="lpi" style="transform:scaleX(0.92)">도시 조사 실업률 목표</span></span></div>
<div class="lab" style="top:679.5px"><span class="lp lb" style="letter-spacing:-0.62px;width:171.0px;margin-left:-2px;"><span class="lpi" style="transform:scaleX(0.97)">재정적자율</span></span><span class="lp ll" style="letter-spacing:2.52px;width:54.0px;margin-left:-4px;"><span class="lpi" style="transform:scaleX(0.87)">(% </span></span><span class="lp ll" style="letter-spacing:-0.19px;width:62.0px;"><span class="lpi" style="transform:scaleX(0.72)">GDP</span></span><span class="lp lk" style="letter-spacing:0.70px;width:60.0px;margin-left:-2px;"><span class="lpi" style="transform:scaleX(0.82)">대비</span></span><span class="lp ll" style="letter-spacing:-1.56px;width:10.0px;margin-left:-2px;"><span class="lpi" style="transform:scaleX(0.85)">)</span></span></div>
<div class="lab" style="top:745.5px"><span class="lp lb" style="letter-spacing:1.23px;width:347.5px;"><span class="lpi" style="transform:scaleX(0.92)">지방정부특별채권 목표</span></span></div>
<div style="position:absolute;left:77px;top:343px;width:1122px;height:3px;background:#cccccc;"></div>
<div style="position:absolute;left:77px;top:409.5px;width:1122px;height:3px;background:#cccccc;"></div>
<div style="position:absolute;left:77px;top:476px;width:1122px;height:3px;background:#cccccc;"></div>
<div style="position:absolute;left:77px;top:609px;width:1122px;height:3px;background:#cccccc;"></div>
<div style="position:absolute;left:77px;top:676px;width:1122px;height:3px;background:#cccccc;"></div>
<div style="position:absolute;left:77px;top:743px;width:1122px;height:3px;background:#cccccc;"></div>
<div style="position:absolute;left:77px;top:954px;width:1122px;height:3px;background:#cccccc;"></div>
<div style="position:absolute;left:77px;top:1020.5px;width:1122px;height:3px;background:#cccccc;"></div>
<div style="position:absolute;left:77px;top:1087px;width:1122px;height:3px;background:#cccccc;"></div>
<div style="position:absolute;left:77px;top:1220.5px;width:1122px;height:3px;background:#cccccc;"></div>
<div style="position:absolute;left:77px;top:1287px;width:1122px;height:3px;background:#cccccc;"></div>
<div style="position:absolute;left:77px;top:1354px;width:1122px;height:3px;background:#cccccc;"></div>
<div style="position:absolute;left:77px;top:343px;width:397px;height:3px;background:#f3cfc4;"></div>
<div style="position:absolute;left:77px;top:409.5px;width:397px;height:3px;background:#f3cfc4;"></div>
<div style="position:absolute;left:77px;top:476px;width:397px;height:3px;background:#f3cfc4;"></div>
<div style="position:absolute;left:77px;top:609px;width:397px;height:3px;background:#f3cfc4;"></div>
<div style="position:absolute;left:77px;top:676px;width:397px;height:3px;background:#f3cfc4;"></div>
<div style="position:absolute;left:77px;top:743px;width:397px;height:3px;background:#f3cfc4;"></div>
<div style="position:absolute;left:77px;top:204px;width:1122px;height:3px;background:#000;"></div>
<div style="position:absolute;left:77px;top:276px;width:1122px;height:3px;background:#000;"></div>
<div style="position:absolute;left:77px;top:813.5px;width:1122px;height:3px;background:#000;"></div>
<div style="position:absolute;left:77px;top:887px;width:1122px;height:3px;background:#000;"></div>
<div style="position:absolute;left:77px;top:1424px;width:1122px;height:3px;background:#000;"></div>
<div id="src">자료: 역대 중국 정부업무보고</div>
<div id="logo">The JoongAng</div>
</div>
</body></html>
